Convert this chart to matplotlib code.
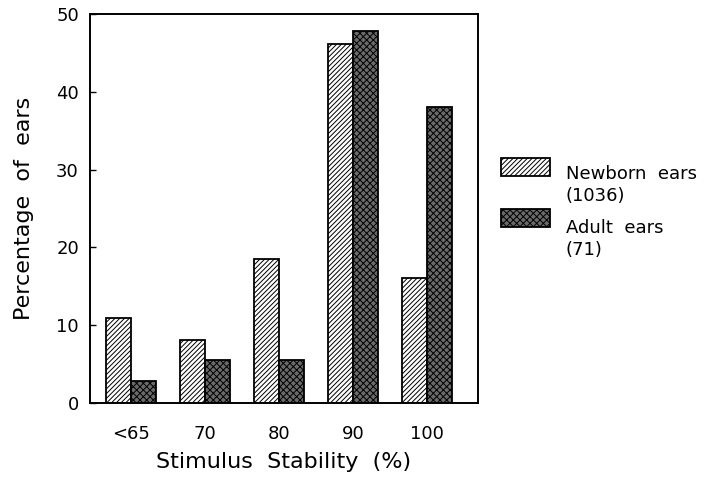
import numpy as np
import matplotlib
matplotlib.use("Agg")
import matplotlib.pyplot as plt
from matplotlib.patches import Rectangle
from matplotlib.legend_handler import HandlerPatch

categories = ["<65", "70", "80", "90", "100"]
newborn = [11.0, 8.1, 18.5, 46.1, 16.1]
adult = [2.8, 5.5, 5.6, 47.8, 38.0]
newborn_label = "Newborn  ears\n(1036)"
adult_label = "Adult  ears\n(71)"

plt.rcParams['font.family'] = ['DejaVu Sans']
plt.rcParams['hatch.linewidth'] = 0.7

fig = plt.figure(figsize=(7.06, 4.80), dpi=100)
ax = fig.add_axes([0.1275, 0.160, 0.5495, 0.811])

x = np.arange(len(categories))
w = 0.34
b1 = ax.bar(x - w/2, newborn, w, facecolor='white', edgecolor='black',
            hatch='///////', linewidth=1.3)
b2 = ax.bar(x + w/2, adult, w, facecolor='#6a6a6a', edgecolor='black',
            hatch='xxxxx', linewidth=1.3)

ax.set_xlim(-0.55, 4.69)
ax.set_ylim(0, 50)
ax.set_yticks([0, 10, 20, 30, 40, 50])
ax.set_xticks(x)
ax.set_xticklabels(categories)
ax.tick_params(axis='y', direction='in', length=4, width=1, labelsize=13, pad=8)
ax.tick_params(axis='x', length=0, labelsize=13, pad=16)
for s in ax.spines.values():
    s.set_linewidth(1.4)

ax.set_xlabel("Stimulus  Stability  (%)", fontsize=16, labelpad=6)
ax.set_ylabel("Percentage  of  ears", fontsize=16, labelpad=16)


# legend key sits beside the first line of each two-line label
def top_key(lift):
    def make(legend, orig_handle, xdescent, ydescent, width, height, fontsize):
        kh = fontsize * 1.0
        return Rectangle((-xdescent, -ydescent + height - kh + lift), width, kh)
    return make


h1, h2 = b1.patches[0], b2.patches[0]
leg = fig.legend([h1, h2], [newborn_label, adult_label], loc='upper left',
                 bbox_to_anchor=(0.7096, 0.657),
                 frameon=False, fontsize=13, handlelength=2.7, handleheight=2.5,
                 handletextpad=0.9, labelspacing=0.8, borderpad=0, borderaxespad=0,
                 handler_map={h1: HandlerPatch(patch_func=top_key(8)),
                              h2: HandlerPatch(patch_func=top_key(11))})
for t in leg.get_texts():
    t.set_linespacing(1.3)

fig.savefig("out.png", dpi=100)
